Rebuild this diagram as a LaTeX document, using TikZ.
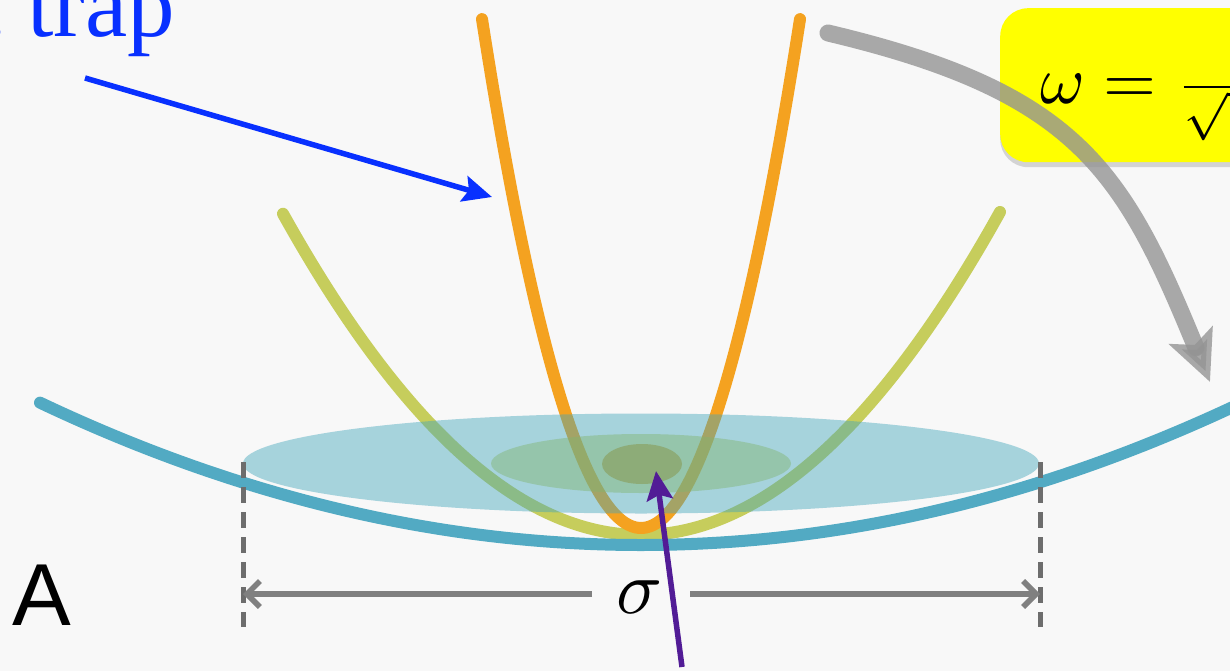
\documentclass[tikz,border=0pt]{standalone}
\usepackage{graphicx}
\usepackage{fontspec}
\setmainfont{Liberation Serif}
\newfontfamily\labelsans{Liberation Sans}
\usetikzlibrary{arrows.meta,shadows}
\definecolor{bgpaper}{RGB}{248,248,248}
\definecolor{trapblue}{RGB}{8,48,255}
\definecolor{curveorange}{RGB}{244,162,32}
\definecolor{curveyellow}{RGB}{198,205,92}
\definecolor{curveteal}{RGB}{82,170,195}
\definecolor{cloudbig}{RGB}{68,166,188}
\definecolor{cloudmid}{RGB}{130,180,112}
\definecolor{cloudsmall}{RGB}{132,142,60}
\definecolor{arrowpurple}{RGB}{82,28,150}
\definecolor{dimgray}{RGB}{128,128,128}
\definecolor{boxyellow}{RGB}{255,255,0}
\tikzset{
  curve/.style={line width=12pt, line cap=round},
  cloud/.style={opacity=0.45},
  pointer/.style={line width=5.5pt, -{Stealth[length=29pt,width=26pt,inset=5pt]}},
  bigturn/.style={line width=17pt, line cap=round, draw=black!42, opacity=0.8,
    -{Stealth[length=50pt,width=46pt,inset=10pt]}},
  dimline/.style={draw=dimgray, line width=5.5pt, -{Straight Barb[length=13pt,width=26pt]}},
  dimguide/.style={draw=dimgray!85!black, line width=5pt, dash pattern=on 16pt off 9pt},
}
\begin{document}
\begin{tikzpicture}[x=1pt,y=-1pt]
\useasboundingbox (0,0) rectangle (1230,671);
\clip (0,0) rectangle (1230,671);
\fill[bgpaper] (0,0) rectangle (1230,671);

% title text (cut by the frame)
\node[anchor=base east, inner sep=0, text=trapblue, font=\fontsize{95}{96}\selectfont] (title) at (175,37) {c trap};

% yellow formula box
\node[anchor=north west, minimum width=290pt, minimum height=154pt, fill=boxyellow,
  rounded corners=28pt, inner sep=0,
  drop shadow={shadow xshift=0pt, shadow yshift=-5pt, opacity=0.3}] (fbox) at (1000,8) {};
\node[anchor=base west, inner sep=0] (formula) at (1040,104)
  {\scalebox{6.8}{$\omega=\frac{1}{\sqrt{\phantom{mm}}}$}};

% potential curves
\draw[curve, curveyellow] plot[domain=283:1000, samples=90, smooth] (\x,{535-(0.05006*(\x-641))^2});
\draw[curve, curveorange] plot[domain=482:800, samples=90, smooth] (\x,{528-(0.14188*(\x-641))^2});

% atom clouds
\fill[cloud, cloudbig] (641,463.5) ellipse[x radius=398, y radius=50];
\fill[cloud, cloudmid] (641,463.5) ellipse[x radius=150, y radius=29.5];
\fill[cloud, cloudsmall] (642,464) ellipse[x radius=40, y radius=20];

\draw[curve, curveteal] plot[domain=40:1245, samples=120, smooth] (\x,{545-(0.01985*(\x-641))^2});

% dimension sigma
\coordinate (dl) at (243,594);
\coordinate (dr) at (1040,594);
\coordinate (gl) at (592,594);
\coordinate (gr) at (690,594);
\coordinate (dlt) at (243,462);
\coordinate (dlb) at (243,627);
\coordinate (drt) at (1040,462);
\coordinate (drb) at (1040,627);
\draw[dimguide] (dlt) -- (dlb);
\draw[dimguide] (drt) -- (drb);
\draw[dimline] (gl) -- (dl);
\draw[dimline] (gr) -- (dr);
\node[inner sep=0] (sigma) at (640,597) {\scalebox{7.6}{$\sigma$}};

% label A
\node[anchor=base west, inner sep=0, font=\labelsans\fontsize{88}{90}\selectfont] (labA) at (12,625) {A};

% arrows
\coordinate (bstart) at (85,78);
\coordinate (bend) at (492,197);
\draw[pointer, trapblue] (bstart) -- (bend);

\coordinate (pstart) at (682,667);
\coordinate (pend) at (656,471);
\draw[pointer, arrowpurple] (pstart) -- (pend);

\coordinate (gstart) at (828,33);
\coordinate (gend) at (1210,382);
\draw[bigturn] (gstart) .. controls (1077,92) and (1123,170) .. (gend);
\end{tikzpicture}
\end{document}
